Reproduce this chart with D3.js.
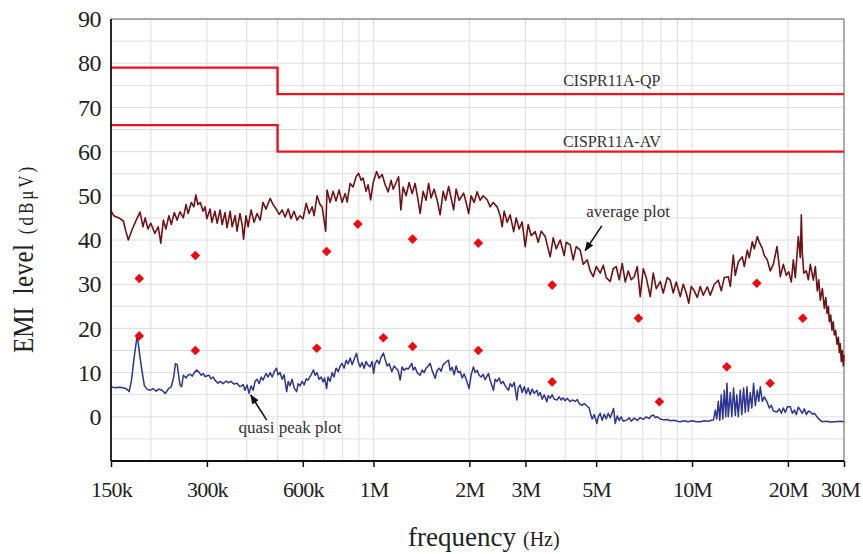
<!DOCTYPE html>
<html>
<head>
<meta charset="utf-8">
<title>EMI spectrum</title>
<script src="https://cdn.jsdelivr.net/npm/d3@7"></script>
<style>
  body { margin: 0; background: #fff; }
  svg { display: block; font-family: "Liberation Serif", "Times New Roman", serif; }
</style>
</head>
<body>
<script>
// axis ticks (frequency in MHz)
const xTicks = [0.15, 0.3, 0.6, 1, 2, 3, 5, 10, 20, 30];
const xTickLabels = ["150k", "300k", "600k", "1M", "2M", "3M", "5M", "10M", "20M", "30M"];
const xGrid = [0.2, 0.3, 0.4, 0.5, 0.6, 0.7, 0.8, 0.9, 1, 2, 3, 4, 5, 6, 7, 8, 9, 10, 20];
const yTicks = [0, 10, 20, 30, 40, 50, 60, 70, 80, 90];

// CISPR 11 class A limits
const limitFreq = [0.15, 0.5, 0.5, 30];
const qpLimit = [79, 79, 73, 73];
const avLimit = [66, 66, 60, 60];

// measured points (red diamonds)
const upperMarkFreq = [0.184, 0.276, 0.713, 0.893, 1.327, 2.134, 3.64, 6.79, 15.97, 22.27];
const upperMarkLevel = [31.3, 36.5, 37.4, 43.6, 40.2, 39.3, 29.8, 22.3, 30.2, 22.3];
const lowerMarkFreq = [0.184, 0.276, 0.664, 1.074, 1.327, 2.134, 3.64, 7.90, 12.86, 17.58];
const lowerMarkLevel = [18.3, 15.0, 15.5, 17.9, 15.9, 15.0, 7.9, 3.4, 11.3, 7.6];

// average plot trace [MHz, dBuV]
const avgTrace = [[0.150,46.6],[0.153,45.5],[0.159,45.0],[0.164,44.3],[0.167,42.0],[0.170,40.0],[0.175,42.5],[0.180,44.5],[0.185,46.3],[0.189,43.0],[0.192,45.0],[0.196,42.5],[0.200,43.8],[0.206,41.5],[0.211,43.0],[0.215,39.3],[0.219,44.5],[0.223,42.5],[0.228,45.5],[0.232,43.5],[0.237,46.2],[0.242,44.5],[0.247,46.4],[0.253,45.0],[0.258,48.0],[0.262,46.0],[0.268,48.5],[0.273,47.5],[0.277,50.2],[0.281,48.0],[0.286,48.5],[0.292,46.5],[0.296,47.5],[0.300,44.8],[0.307,47.0],[0.311,44.0],[0.318,46.5],[0.323,43.8],[0.330,46.8],[0.335,43.5],[0.342,46.2],[0.347,42.8],[0.355,46.5],[0.360,43.0],[0.368,45.5],[0.373,42.0],[0.381,46.0],[0.387,43.5],[0.391,40.2],[0.398,45.5],[0.404,43.0],[0.413,46.8],[0.422,44.0],[0.431,46.0],[0.441,44.5],[0.450,48.5],[0.460,47.0],[0.474,49.4],[0.484,48.0],[0.495,47.0],[0.506,45.8],[0.517,46.8],[0.528,45.2],[0.540,47.0],[0.551,44.8],[0.563,46.5],[0.576,44.5],[0.588,45.5],[0.601,44.8],[0.615,48.3],[0.628,46.0],[0.642,47.5],[0.651,45.5],[0.665,50.0],[0.680,48.0],[0.690,47.5],[0.708,42.0],[0.715,51.3],[0.731,48.5],[0.747,51.0],[0.763,48.8],[0.780,51.3],[0.797,48.5],[0.815,50.5],[0.827,48.6],[0.845,52.8],[0.863,52.0],[0.882,54.3],[0.898,55.1],[0.915,53.5],[0.928,54.0],[0.948,51.0],[0.962,52.5],[0.980,49.1],[0.998,53.0],[1.023,55.5],[1.042,54.0],[1.065,54.8],[1.088,52.5],[1.112,50.9],[1.136,53.5],[1.153,51.5],[1.178,53.0],[1.199,54.3],[1.219,46.8],[1.239,52.0],[1.266,50.0],[1.294,53.0],[1.323,50.5],[1.351,52.8],[1.381,49.0],[1.401,46.0],[1.432,51.0],[1.463,49.0],[1.490,52.8],[1.517,49.5],[1.550,51.5],[1.585,49.0],[1.619,45.7],[1.655,51.0],[1.685,49.0],[1.722,52.1],[1.753,49.5],[1.785,46.8],[1.818,51.5],[1.858,49.0],[1.919,50.6],[1.954,48.5],[1.990,46.0],[2.026,50.0],[2.070,48.5],[2.116,50.9],[2.162,49.0],[2.210,50.0],[2.275,49.1],[2.325,47.5],[2.376,48.5],[2.445,47.5],[2.499,45.5],[2.536,43.0],[2.572,46.5],[2.629,44.0],[2.686,45.7],[2.755,41.9],[2.806,45.0],[2.867,42.5],[2.930,44.1],[2.994,38.5],[3.060,43.5],[3.127,41.0],[3.219,41.9],[3.290,39.5],[3.362,42.0],[3.460,40.8],[3.536,38.0],[3.588,36.2],[3.666,40.5],[3.747,38.0],[3.857,40.0],[3.969,36.5],[4.028,39.5],[4.146,38.9],[4.237,35.5],[4.330,38.5],[4.457,37.7],[4.555,34.5],[4.688,35.5],[4.791,33.0],[4.896,31.7],[5.004,34.0],[5.150,32.5],[5.264,34.3],[5.379,31.5],[5.536,30.6],[5.658,33.5],[5.782,34.0],[5.909,31.0],[6.039,34.7],[6.171,30.5],[6.307,33.0],[6.445,31.0],[6.586,31.7],[6.731,34.0],[6.878,27.2],[7.029,33.5],[7.183,31.5],[7.394,27.2],[7.556,32.5],[7.722,29.0],[7.948,30.6],[8.123,28.0],[8.362,31.5],[8.544,30.9],[8.732,28.0],[8.924,30.5],[9.185,27.2],[9.387,30.0],[9.593,28.0],[9.768,25.7],[9.946,29.5],[10.127,28.7],[10.387,27.0],[10.615,29.5],[10.848,27.5],[11.167,29.4],[11.411,27.5],[11.745,30.0],[12.091,30.9],[12.356,28.5],[12.625,31.5],[12.998,31.7],[13.187,29.5],[13.477,36.6],[13.672,32.0],[13.973,35.0],[14.383,36.2],[14.592,34.0],[14.913,37.7],[15.129,36.0],[15.462,39.6],[15.686,38.0],[16.031,40.8],[16.264,39.5],[16.621,38.1],[16.862,36.5],[17.232,35.5],[17.609,33.0],[17.997,34.5],[18.486,38.5],[18.793,34.0],[18.931,31.7],[19.347,34.5],[19.771,32.0],[20.131,32.8],[20.499,30.5],[20.798,35.5],[21.100,31.5],[21.564,40.8],[21.877,36.0],[22.036,45.7],[22.197,37.0],[22.437,32.5],[22.848,33.0],[23.182,31.0],[23.517,34.5],[24.035,30.9],[24.383,34.0],[24.740,28.5],[25.0,31.0],[25.281,26.4],[25.652,29.0],[26.023,24.5],[26.3,27.0],[26.538,23.4],[26.8,25.0],[26.981,21.5],[27.25,23.0],[27.515,19.6],[27.75,21.5],[27.975,18.5],[28.25,19.5],[28.528,16.4],[28.8,18.0],[29.005,14.5],[29.2,16.5],[29.428,12.5],[29.65,15.0],[29.858,11.5],[30.0,14.0]];

// quasi peak plot trace [MHz, dBuV]
const qpTrace = [[0.150,6.8],[0.154,6.6],[0.160,6.7],[0.165,6.5],[0.168,6.3],[0.171,5.7],[0.174,8.3],[0.177,13.0],[0.181,18.1],[0.182,17.5],[0.185,13.5],[0.188,10.0],[0.191,7.0],[0.195,6.2],[0.199,6.0],[0.203,6.4],[0.208,5.8],[0.212,6.3],[0.217,6.0],[0.222,5.3],[0.227,6.3],[0.232,6.8],[0.236,9.0],[0.239,12.0],[0.242,11.8],[0.245,9.0],[0.247,7.2],[0.250,6.8],[0.253,9.4],[0.258,8.8],[0.262,9.5],[0.266,9.6],[0.270,9.2],[0.274,10.0],[0.279,10.6],[0.284,10.0],[0.288,9.4],[0.292,9.8],[0.296,9.1],[0.305,9.4],[0.309,8.6],[0.314,9.0],[0.318,8.3],[0.325,7.6],[0.330,8.0],[0.337,7.5],[0.345,8.1],[0.350,7.7],[0.357,8.0],[0.365,7.4],[0.373,7.6],[0.381,6.8],[0.390,7.3],[0.395,6.0],[0.401,7.2],[0.407,5.3],[0.413,7.0],[0.419,6.0],[0.425,8.0],[0.431,8.5],[0.438,7.5],[0.444,9.0],[0.450,8.3],[0.460,9.8],[0.467,9.0],[0.474,10.0],[0.481,9.0],[0.488,10.2],[0.496,11.0],[0.502,9.5],[0.509,10.0],[0.517,8.5],[0.524,9.5],[0.534,5.7],[0.540,8.0],[0.547,7.0],[0.555,8.5],[0.564,6.5],[0.574,5.7],[0.580,7.5],[0.588,7.0],[0.597,8.0],[0.606,7.2],[0.615,8.6],[0.623,8.3],[0.637,9.5],[0.648,10.6],[0.656,9.4],[0.665,10.0],[0.675,8.5],[0.685,9.0],[0.695,7.9],[0.702,8.8],[0.713,6.4],[0.720,9.0],[0.731,8.0],[0.742,10.0],[0.752,9.0],[0.763,11.0],[0.775,10.2],[0.786,11.5],[0.797,12.1],[0.809,11.0],[0.821,12.8],[0.833,12.0],[0.845,13.3],[0.857,11.8],[0.870,13.0],[0.885,14.4],[0.895,12.5],[0.908,11.3],[0.921,12.3],[0.935,11.0],[0.948,12.5],[0.962,11.7],[0.976,11.3],[0.990,12.5],[1.001,9.8],[1.012,12.1],[1.027,12.8],[1.042,12.0],[1.057,13.5],[1.075,14.4],[1.088,13.0],[1.104,11.5],[1.120,12.0],[1.142,10.2],[1.161,11.5],[1.178,11.0],[1.195,10.5],[1.213,8.3],[1.230,11.3],[1.248,10.5],[1.266,11.0],[1.285,10.8],[1.304,11.5],[1.320,12.1],[1.332,10.6],[1.351,11.2],[1.371,10.0],[1.401,9.4],[1.422,10.6],[1.442,10.0],[1.463,11.0],[1.485,11.5],[1.506,12.1],[1.528,10.5],[1.562,8.7],[1.585,10.5],[1.608,11.0],[1.631,10.3],[1.655,11.8],[1.691,12.4],[1.720,12.8],[1.741,10.5],[1.766,11.2],[1.792,9.5],[1.818,11.5],[1.845,10.0],[1.871,10.3],[1.899,8.8],[1.926,9.7],[1.954,8.5],[1.997,6.4],[2.026,9.5],[2.060,11.3],[2.086,10.0],[2.116,10.5],[2.147,9.4],[2.178,9.0],[2.210,9.6],[2.242,8.4],[2.296,9.8],[2.325,8.2],[2.381,6.0],[2.410,8.5],[2.445,8.0],[2.481,8.8],[2.517,7.5],[2.554,8.0],[2.591,7.0],[2.654,6.0],[2.687,7.5],[2.726,6.8],[2.766,7.8],[2.820,3.8],[2.847,6.5],[2.888,7.2],[2.930,5.5],[2.973,6.8],[3.016,5.2],[3.060,6.5],[3.105,5.0],[3.150,6.3],[3.196,5.3],[3.259,6.0],[3.290,4.8],[3.337,5.5],[3.386,4.0],[3.436,5.0],[3.503,3.4],[3.536,4.8],[3.588,4.2],[3.640,5.0],[3.693,4.0],[3.766,3.8],[3.829,4.5],[3.885,3.8],[3.941,4.3],[3.999,3.6],[4.057,4.2],[4.146,3.4],[4.206,3.8],[4.299,3.5],[4.361,3.9],[4.425,3.0],[4.512,2.6],[4.588,3.0],[4.688,2.4],[4.757,2.0],[4.809,0.5],[4.861,-0.5],[4.932,0.5],[5.029,-1.5],[5.077,0.0],[5.150,0.8],[5.226,-0.8],[5.302,0.6],[5.379,-0.5],[5.457,0.8],[5.537,-0.2],[5.617,1.0],[5.671,1.9],[5.741,-1.5],[5.824,0.2],[5.909,-0.8],[5.995,0.0],[6.083,-1.0],[6.248,-0.7],[6.352,-0.2],[6.445,-1.0],[6.586,-0.3],[6.731,-0.8],[6.878,-0.2],[7.029,-0.6],[7.183,0.0],[7.341,-0.4],[7.448,0.2],[7.573,0.4],[7.666,-0.2],[7.778,0.0],[7.949,-0.5],[8.141,-0.7],[8.361,-0.6],[8.545,-0.9],[8.796,-0.8],[8.988,-1.0],[9.185,-1.1],[9.456,-0.9],[9.733,-1.1],[10.018,-0.9],[10.312,-1.1],[10.615,-1.1],[10.927,-0.9],[11.248,-1.0],[11.494,-0.8],[11.687,-0.7],[11.831,1.5],[11.960,-0.5],[12.091,3.5],[12.223,-0.8],[12.356,5.0],[12.491,-0.5],[12.628,6.0],[12.765,0.0],[12.876,7.6],[12.998,0.0],[13.187,5.5],[13.331,0.0],[13.506,6.5],[13.673,0.3],[13.822,5.0],[13.973,0.0],[14.176,6.0],[14.330,0.5],[14.519,6.5],[14.698,1.0],[14.881,6.8],[15.021,1.2],[15.239,5.5],[15.405,2.0],[15.608,7.6],[15.800,2.5],[16.031,6.0],[16.206,3.5],[16.382,6.8],[16.621,3.5],[16.864,4.5],[17.195,3.4],[17.484,2.0],[17.738,2.6],[17.997,1.3],[18.486,1.1],[18.797,1.8],[19.069,0.8],[19.347,2.0],[19.628,1.0],[19.915,2.3],[20.351,2.3],[20.648,0.8],[20.950,1.5],[21.254,0.5],[21.564,2.2],[21.877,1.5],[22.196,0.8],[22.521,1.8],[22.848,0.5],[23.182,1.3],[23.518,1.1],[23.861,0.6],[24.210,0.8],[24.561,0.2],[24.920,-0.4],[25.596,-1.1],[26.403,-1.0],[27.178,-1.2],[28.178,-1.1],[29.216,-1.0],[30.0,-1.1]];

// annotations [MHz, dBuV]
const limitLabels = [["CISPR11A-QP", 5.6, 74.9], ["CISPR11A-AV", 5.6, 61.1]];
const traceLabels = [["average plot", 6.3, 45.3], ["quasi peak plot", 0.547, -3.6]];
const arrows = [[5.21, 43.2, 4.62, 37.6], [0.4625, -0.75, 0.412, 4.9]];

const w = 863;
const h = 554;

const x = d3.scaleLog().domain([0.15, 30]).range([111, 844]);
const y = d3.scaleLinear().domain([-10, 90]).range([461, 19]);

const svg = d3.select("body").append("svg")
  .attr("width", w)
  .attr("height", h);

svg.append("rect").attr("width", w).attr("height", h).attr("fill", "#fff");

svg.append("defs").append("marker")
  .attr("id", "arrow")
  .attr("viewBox", "0 0 10 10")
  .attr("refX", 9).attr("refY", 5)
  .attr("markerWidth", 6).attr("markerHeight", 6)
  .attr("orient", "auto")
  .append("path").attr("d", "M0,1L10,5L0,9Z").attr("fill", "#111");

// grid
const grid = svg.append("g").attr("stroke", "#dedede").attr("stroke-width", 1);
grid.selectAll(".vg").data(xGrid).enter().append("line")
  .attr("x1", d => x(d)).attr("x2", d => x(d))
  .attr("y1", y(90)).attr("y2", y(-10));
grid.selectAll(".hg").data(d3.range(-5, 90, 5)).enter().append("line")
  .attr("x1", x(0.15)).attr("x2", x(30))
  .attr("y1", d => y(d)).attr("y2", d => y(d));

// frame
svg.append("line").attr("x1", x(0.15)).attr("x2", x(30)).attr("y1", y(90)).attr("y2", y(90))
  .attr("stroke", "#555").attr("stroke-width", 1.2);
svg.append("line").attr("x1", x(30)).attr("x2", x(30)).attr("y1", y(90)).attr("y2", y(-10))
  .attr("stroke", "#777").attr("stroke-width", 1.2);

// limit lines
const line = d3.line().x(d => x(d[0])).y(d => y(d[1]));
[qpLimit, avLimit].forEach(lim => {
  svg.append("path")
    .datum(limitFreq.map((f, i) => [f, lim[i]]))
    .attr("d", line)
    .attr("fill", "none")
    .attr("stroke", "#e8141e")
    .attr("stroke-width", 2.4);
});

// traces
svg.append("path").datum(avgTrace).attr("d", line)
  .attr("fill", "none").attr("stroke", "#6e1216").attr("stroke-width", 1.6)
  .attr("stroke-linejoin", "round");
svg.append("path").datum(qpTrace).attr("d", line)
  .attr("fill", "none").attr("stroke", "#2e348f").attr("stroke-width", 1.5)
  .attr("stroke-linejoin", "round");

// markers
const diamond = d3.symbol(d3.symbolSquare, 46);
const marks = upperMarkFreq.map((f, i) => [f, upperMarkLevel[i]])
  .concat(lowerMarkFreq.map((f, i) => [f, lowerMarkLevel[i]]));
svg.selectAll(".mark").data(marks).enter().append("path")
  .attr("d", diamond)
  .attr("transform", d => "translate(" + x(d[0]) + "," + y(d[1]) + ") rotate(45)")
  .attr("fill", "#f2070d");

// annotations
svg.selectAll(".limlab").data(limitLabels).enter().append("text")
  .attr("x", d => x(d[1])).attr("y", d => y(d[2]))
  .attr("text-anchor", "middle")
  .attr("font-size", 16).attr("fill", "#333")
  .text(d => d[0]);
svg.selectAll(".trlab").data(traceLabels).enter().append("text")
  .attr("x", d => x(d[1])).attr("y", d => y(d[2]))
  .attr("text-anchor", "middle")
  .attr("font-size", 17).attr("fill", "#333")
  .text(d => d[0]);
svg.selectAll(".arr").data(arrows).enter().append("line")
  .attr("x1", d => x(d[0])).attr("y1", d => y(d[1]))
  .attr("x2", d => x(d[2])).attr("y2", d => y(d[3]))
  .attr("stroke", "#111").attr("stroke-width", 1.6)
  .attr("marker-end", "url(#arrow)");

// y axis
const yAxis = svg.append("g")
  .attr("transform", "translate(" + x(0.15) + ",0)")
  .call(d3.axisLeft(y).tickValues(yTicks).tickSize(0).tickPadding(10));
yAxis.select(".domain").remove();
yAxis.selectAll("text")
  .attr("font-family", "Liberation Serif, serif")
  .attr("font-size", 24)
  .attr("letter-spacing", -0.5)
  .attr("fill", "#222");

// x axis
const xAxis = svg.append("g")
  .attr("transform", "translate(0," + y(-10) + ")")
  .call(d3.axisBottom(x).tickValues(xTicks)
    .tickFormat((d, i) => xTickLabels[i]).tickSize(6).tickSizeOuter(0));
xAxis.select(".domain").remove();
xAxis.selectAll("line").attr("stroke", "#111").attr("stroke-width", 1.5);
xAxis.selectAll("text")
  .attr("y", 20)
  .attr("font-family", "Liberation Serif, serif")
  .attr("font-size", 22)
  .attr("letter-spacing", -0.8)
  .attr("fill", "#222");
// keep the last label inside the page
xAxis.selectAll("text").filter((d, i) => i === xTicks.length - 1).attr("dx", -4);

// left and bottom axis lines
svg.append("line").attr("x1", x(0.15)).attr("x2", x(0.15)).attr("y1", y(90)).attr("y2", y(-10))
  .attr("stroke", "#111").attr("stroke-width", 1.8);
svg.append("line").attr("x1", x(0.15)).attr("x2", x(30)).attr("y1", y(-10)).attr("y2", y(-10))
  .attr("stroke", "#111").attr("stroke-width", 1.8);

// axis titles
const yTitle = [["EMI", 25, 0, 330], ["level", 25, 0.5, 269], ["(dBμV)", 17, 3, 199]];
yTitle.forEach(t => {
  svg.append("text")
    .attr("transform", "translate(33," + t[3] + ") rotate(-90) scale(1,1.2)")
    .attr("text-anchor", "middle")
    .attr("font-size", t[1])
    .attr("letter-spacing", t[2])
    .attr("fill", "#222")
    .text(t[0]);
});
svg.append("text").attr("x", 408).attr("y", 546)
  .attr("font-size", 27).attr("fill", "#222").text("frequency");
svg.append("text").attr("x", 523).attr("y", 546)
  .attr("font-size", 20).attr("fill", "#222").text("(Hz)");
</script>
</body>
</html>
